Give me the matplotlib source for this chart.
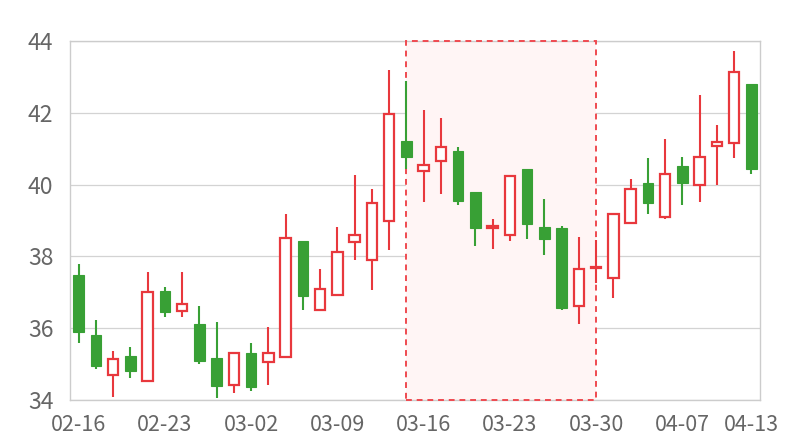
import numpy as np
import matplotlib
matplotlib.use("Agg")
import matplotlib.pyplot as plt
from matplotlib.patches import Rectangle

plt.rcParams['font.family'] = ['Noto Sans CJK SC', 'DejaVu Sans']

dates = ['02-16', '02-17', '02-18', '02-19', '02-22', '02-23', '02-24', '02-25', '02-26',
         '03-01', '03-02', '03-03', '03-04', '03-05', '03-08', '03-09', '03-10', '03-11',
         '03-12', '03-15', '03-16', '03-17', '03-18', '03-19', '03-22', '03-23', '03-24',
         '03-25', '03-26', '03-29', '03-30', '03-31', '04-01', '04-05', '04-06', '04-07',
         '04-08', '04-09', '04-12', '04-13']

opens = [37.47, 35.80, 34.71, 35.22, 34.52, 37.03, 36.49, 36.12, 35.18, 34.41,
         35.30, 35.06, 35.20, 38.43, 36.52, 36.92, 38.40, 37.91, 38.99, 41.22,
         40.39, 40.65, 40.93, 39.79, 38.80, 38.60, 40.44, 38.82, 38.79, 36.61,
         37.68, 37.41, 38.94, 40.04, 39.11, 40.52, 39.98, 41.08, 41.17, 42.81]
highs = [37.78, 36.24, 35.37, 35.48, 37.56, 37.15, 37.57, 36.63, 36.16, 35.30,
         35.60, 36.03, 39.19, 38.43, 37.64, 38.81, 40.26, 39.89, 43.19, 42.89,
         42.08, 41.86, 41.05, 39.79, 39.05, 40.23, 40.44, 39.60, 38.85, 38.54,
         38.46, 39.19, 40.17, 40.75, 41.27, 40.78, 42.50, 41.67, 43.72, 42.81]
lows = [35.59, 34.85, 34.07, 34.60, 34.52, 36.30, 36.32, 34.99, 34.06, 34.19,
        34.26, 34.43, 35.20, 36.52, 36.50, 36.92, 37.91, 37.06, 38.18, 40.43,
        39.52, 39.74, 39.43, 38.29, 38.20, 38.44, 38.48, 38.05, 36.52, 36.12,
        37.27, 36.85, 38.94, 39.19, 39.03, 39.42, 39.51, 40.00, 40.74, 40.30]
closes = [35.89, 34.94, 35.15, 34.82, 37.00, 36.45, 36.68, 35.08, 34.39, 35.30,
          34.35, 35.31, 38.50, 36.90, 37.09, 38.11, 38.60, 39.50, 41.98, 40.76,
          40.54, 41.06, 39.54, 38.79, 38.86, 40.23, 38.90, 38.48, 36.56, 37.66,
          37.71, 39.19, 39.87, 39.50, 40.29, 40.04, 40.78, 41.18, 43.15, 40.43]

highlight_start = '03-15'
highlight_end = '03-30'

red = '#e8383d'
green = '#38a035'

fig = plt.figure(figsize=(8, 4.4), dpi=100)
ax = fig.add_axes([0.0875, 0.0909, 0.8625, 0.8159])

x = np.arange(len(dates))
o = np.array(opens)
c = np.array(closes)
h = np.array(highs)
l = np.array(lows)
up = c >= o

# highlighted period: fill below everything, dashed outline above the spines
i0 = dates.index(highlight_start)
i1 = dates.index(highlight_end)
ax.add_patch(Rectangle((i0, 34), i1 - i0, 10, facecolor='#fff5f5',
                       edgecolor='none', zorder=1))
ax.add_patch(Rectangle((i0, 34), i1 - i0, 10, fill=False, edgecolor='#ef4a50',
                       linestyle=(0, (3, 2.5)), linewidth=1.4, zorder=2.7, clip_on=False))

# wicks
ax.vlines(x[up], l[up], h[up], color=red, linewidth=1.5, zorder=3)
ax.vlines(x[~up], l[~up], h[~up], color=green, linewidth=1.5, zorder=3)

# bodies
w = 0.6
ax.bar(x[up], (c - o)[up], bottom=o[up], width=w, facecolor='white',
       edgecolor=red, linewidth=1.6, zorder=3.5)
ax.bar(x[~up], (c - o)[~up], bottom=o[~up], width=w, facecolor=green,
       edgecolor=green, linewidth=0.8, zorder=3.5)

ax.set_xlim(-0.5, len(dates) - 0.5)
ax.set_ylim(34, 44)
ax.set_yticks([34, 36, 38, 40, 42, 44])
tick_idx = [0, 5, 10, 15, 20, 25, 30, 35, 39]
ax.set_xticks(tick_idx)
ax.set_xticklabels([dates[i] for i in tick_idx])

ax.grid(axis='y', color='#d3d3d3', linewidth=0.9, zorder=0)
ax.set_axisbelow(True)
for s in ax.spines.values():
    s.set_color('#cccccc')
    s.set_linewidth(1.0)
ax.tick_params(length=0, colors='#666666')
ax.tick_params(axis='y', labelsize=16.5, pad=12)
ax.tick_params(axis='x', labelsize=15.5, pad=10)

fig.savefig('out.png', dpi=100)
